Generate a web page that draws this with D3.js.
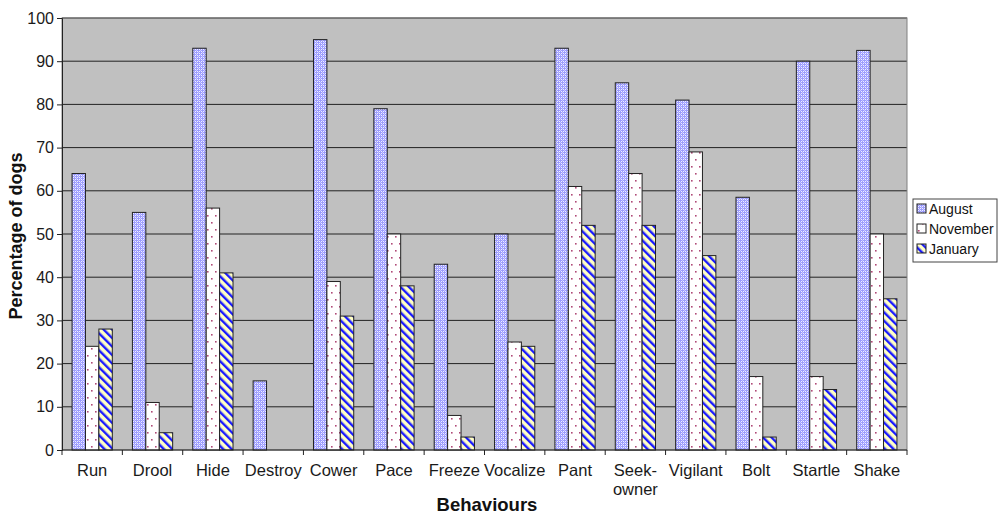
<!DOCTYPE html>
<html>
<head>
<meta charset="utf-8">
<script src="https://cdn.jsdelivr.net/npm/d3@7"></script>
<style>
  body { margin: 0; background: #fff; }
  text { font-family: "Liberation Sans", Arial, sans-serif; }
</style>
</head>
<body>
<div id="chart"></div>
<script>
// chart data
const behaviours = ['Run', 'Drool', 'Hide', 'Destroy', 'Cower', 'Pace', 'Freeze', 'Vocalize',
  'Pant', 'Seek-owner', 'Vigilant', 'Bolt', 'Startle', 'Shake'];
const months = ['August', 'November', 'January'];
const august = [64, 55, 93, 16, 95, 79, 43, 50, 93, 85, 81, 58.5, 90, 92.5];
const november = [24, 11, 56, 0, 39, 50, 8, 25, 61, 64, 69, 17, 17, 50];
const january = [28, 4, 41, 0, 31, 38, 3, 24, 52, 52, 45, 3, 14, 35];
const yTicks = [0, 10, 20, 30, 40, 50, 60, 70, 80, 90, 100];

const seriesValues = [august, november, january];

const width = 1002, height = 515;
const margin = { top: 18, right: 95, bottom: 65, left: 62 };
const innerW = width - margin.left - margin.right;
const innerH = height - margin.top - margin.bottom;

const svg = d3.select('#chart').append('svg')
  .attr('width', width)
  .attr('height', height);

// fill patterns
const defs = svg.append('defs');

const pAug = defs.append('pattern')
  .attr('id', 'p-aug').attr('patternUnits', 'userSpaceOnUse')
  .attr('width', 4).attr('height', 4);
pAug.append('rect').attr('width', 4).attr('height', 4).attr('fill', '#9c9cff');
[[1, 1], [3, 3], [1, 3], [3, 1]].forEach(([px, py]) => {
  pAug.append('rect').attr('x', px).attr('y', py).attr('width', 1).attr('height', 1).attr('fill', '#f0f0ff');
});
[[0, 2], [2, 0]].forEach(([px, py]) => {
  pAug.append('rect').attr('x', px).attr('y', py).attr('width', 1).attr('height', 1).attr('fill', '#c8c8ff');
});

const pNov = defs.append('pattern')
  .attr('id', 'p-nov').attr('patternUnits', 'userSpaceOnUse')
  .attr('width', 8).attr('height', 14);
pNov.append('rect').attr('width', 8).attr('height', 14).attr('fill', '#ffffff');
pNov.append('rect').attr('x', 1).attr('y', 1).attr('width', 1.6).attr('height', 1.6).attr('fill', '#b04a78');
pNov.append('rect').attr('x', 5).attr('y', 8).attr('width', 1.6).attr('height', 1.6).attr('fill', '#b04a78');

const pJan = defs.append('pattern')
  .attr('id', 'p-jan').attr('patternUnits', 'userSpaceOnUse')
  .attr('width', 6).attr('height', 6)
  .attr('patternTransform', 'rotate(-45)');
pJan.append('rect').attr('width', 6).attr('height', 6).attr('fill', '#ffffc4');
pJan.append('rect').attr('x', 0).attr('y', 0).attr('width', 2.4).attr('height', 6).attr('fill', '#1a1aff');

const fills = ['url(#p-aug)', 'url(#p-nov)', 'url(#p-jan)'];

const g = svg.append('g')
  .attr('transform', `translate(${margin.left},${margin.top})`);

const x0 = d3.scaleBand().domain(behaviours).range([0, innerW]).paddingInner(0).paddingOuter(0);
const y = d3.scaleLinear().domain([0, 100]).range([innerH, 0]);

// bar layout: gap width 150% as in the original spreadsheet chart
const barW = x0.bandwidth() / 4.5;
const gapOffset = barW * 0.75;

// plot background
g.append('rect')
  .attr('width', innerW).attr('height', innerH)
  .attr('fill', '#c0c0c0');

// gridlines
g.append('g').selectAll('line')
  .data(yTicks.filter(d => d > 0))
  .join('line')
  .attr('x1', 0).attr('x2', innerW)
  .attr('y1', d => y(d)).attr('y2', d => y(d))
  .attr('stroke', '#222').attr('stroke-width', 1);

// plot border
g.append('rect')
  .attr('width', innerW).attr('height', innerH)
  .attr('fill', 'none').attr('stroke', '#808080').attr('stroke-width', 1);

// bars
behaviours.forEach((b, i) => {
  seriesValues.forEach((vals, s) => {
    const v = vals[i];
    if (v <= 0) return;
    g.append('rect')
      .attr('x', x0(b) + gapOffset + s * barW)
      .attr('y', y(v))
      .attr('width', barW)
      .attr('height', innerH - y(v))
      .attr('fill', fills[s])
      .attr('stroke', '#222')
      .attr('stroke-width', 1);
  });
});

// y axis
const yAxis = g.append('g')
  .call(d3.axisLeft(y).tickValues(yTicks).tickSize(5).tickPadding(3));
yAxis.select('.domain').attr('stroke', '#222');
yAxis.selectAll('.tick line').attr('stroke', '#222');
yAxis.selectAll('.tick text')
  .attr('font-size', '16px').attr('fill', '#1a1a1a')
  .attr('font-family', '"Liberation Sans", Arial, sans-serif');

// x axis with ticks on category boundaries
const xAxisG = g.append('g').attr('transform', `translate(0,${innerH})`);
xAxisG.append('line')
  .attr('x1', 0).attr('x2', innerW)
  .attr('stroke', '#222');
xAxisG.selectAll('.bound')
  .data(d3.range(behaviours.length + 1))
  .join('line')
  .attr('class', 'bound')
  .attr('x1', d => d * x0.step()).attr('x2', d => d * x0.step())
  .attr('y1', 0).attr('y2', 5)
  .attr('stroke', '#222');

const labels = xAxisG.selectAll('.lbl')
  .data(behaviours)
  .join('text')
  .attr('class', 'lbl')
  .attr('x', d => x0(d) + x0.bandwidth() / 2)
  .attr('y', 26)
  .attr('text-anchor', 'middle')
  .attr('font-size', '16.5px')
  .attr('fill', '#1a1a1a');
labels.each(function(d) {
  const t = d3.select(this);
  const parts = d === 'Seek-owner' ? ['Seek-', 'owner'] : [d];
  parts.forEach((p, k) => {
    t.append('tspan')
      .attr('x', x0(d) + x0.bandwidth() / 2)
      .attr('dy', k === 0 ? 0 : 19)
      .text(p);
  });
});

// axis titles
svg.append('text')
  .attr('x', 487)
  .attr('y', 511)
  .attr('text-anchor', 'middle')
  .attr('font-size', '18.5px').attr('font-weight', 'bold')
  .attr('fill', '#111')
  .text('Behaviours');

svg.append('text')
  .attr('transform', `translate(22,${margin.top + innerH / 2 + 2}) rotate(-90)`)
  .attr('text-anchor', 'middle')
  .attr('font-size', '18px').attr('font-weight', 'bold')
  .attr('fill', '#111')
  .text('Percentage of dogs');

// legend
const legend = svg.append('g').attr('transform', 'translate(913,199)');
legend.append('rect')
  .attr('width', 84).attr('height', 63)
  .attr('fill', '#fff').attr('stroke', '#444');
months.forEach((m, i) => {
  const row = legend.append('g').attr('transform', `translate(4,${10 + i * 20})`);
  row.append('rect')
    .attr('x', 0).attr('y', -5)
    .attr('width', 9).attr('height', 9)
    .attr('fill', fills[i]).attr('stroke', '#222');
  row.append('text')
    .attr('x', 12).attr('y', 5)
    .attr('font-size', '14px').attr('fill', '#111')
    .text(m);
});
</script>
</body>
</html>
